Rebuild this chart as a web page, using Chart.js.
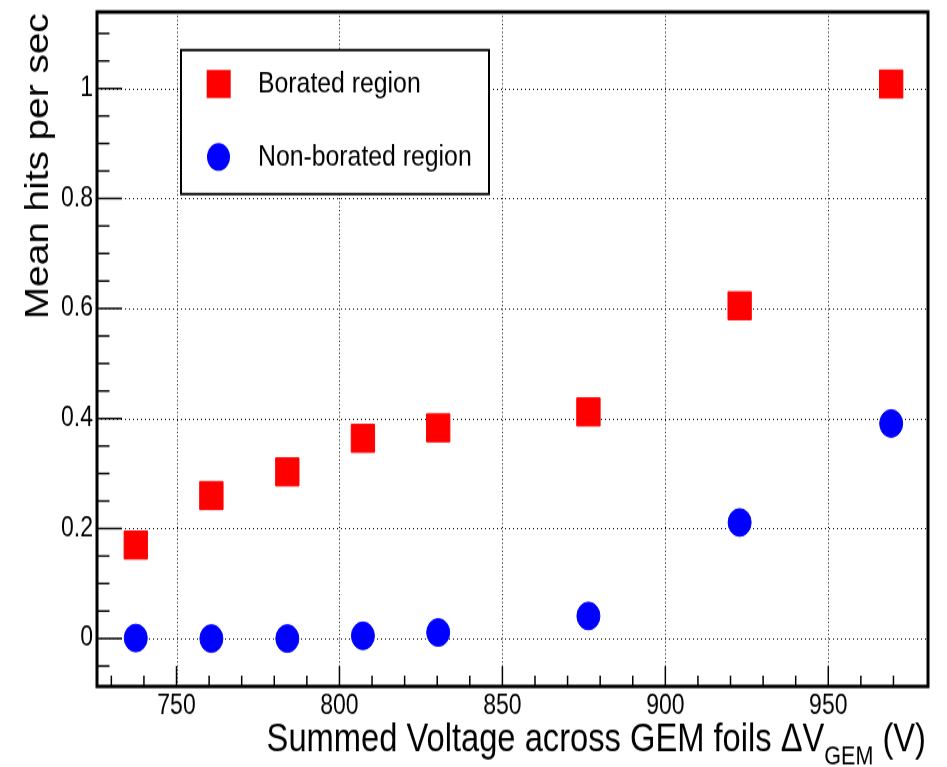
<!DOCTYPE html>
<html>
<head>
<meta charset="utf-8">
<script src="https://cdn.jsdelivr.net/npm/chart.js@4.4.1/dist/chart.umd.min.js"></script>
<style>
  html, body { margin: 0; padding: 0; background: #fff; }
  #page { width: 947px; height: 767px; position: relative; }
  /* the source plot is stretched vertically, so the canvas is too */
  #wrap { position: absolute; left: 0; top: 0; width: 947px; height: 639px; transform: scaleY(1.2); transform-origin: 0 0; }
</style>
</head>
<body>
<div id="page"><div id="wrap"><canvas id="myChart" width="947" height="639"></canvas></div></div>
<script>
// data
var voltages = [737.5, 760.7, 784, 807.2, 830.3, 876.4, 922.8, 969.3];
var borated = [0.17, 0.26, 0.303, 0.364, 0.383, 0.412, 0.605, 1.008];
var nonBorated = [0.001, 0.0, 0.0, 0.005, 0.011, 0.041, 0.211, 0.391];
var xTicks = [750, 800, 850, 900, 950];
var yTicks = [0, 0.2, 0.4, 0.6, 0.8, 1];
var seriesNames = ["Borated region", "Non-borated region"];

function toPoints(ys) {
  return voltages.map(function (v, i) { return { x: v, y: ys[i] }; });
}

var FONT = '"Liberation Sans", Arial, Helvetica, sans-serif';
Chart.defaults.font.family = FONT;
Chart.defaults.color = "#000";

// grid, frame, ticks, legend and axis titles in the ROOT style
var rootStyle = {
  id: "rootStyle",
  beforeDatasetsDraw: function (chart) {
    var ctx = chart.ctx, a = chart.chartArea;
    var xs = chart.scales.x, ys = chart.scales.y;
    ctx.save();
    ctx.strokeStyle = "#000";
    ctx.lineWidth = 1;
    ctx.setLineDash([1, 2.3]);
    xTicks.forEach(function (v) {
      var px = Math.round(xs.getPixelForValue(v)) + 0.5;
      ctx.beginPath(); ctx.moveTo(px, a.top); ctx.lineTo(px, a.bottom); ctx.stroke();
    });
    ctx.setLineDash([1, 3]);
    yTicks.forEach(function (v) {
      var py = Math.round(ys.getPixelForValue(v)) + 0.5;
      ctx.beginPath(); ctx.moveTo(a.left, py); ctx.lineTo(a.right, py); ctx.stroke();
    });
    ctx.restore();
  },
  afterDatasetsDraw: function (chart) {
    var ctx = chart.ctx, a = chart.chartArea;
    var xs = chart.scales.x, ys = chart.scales.y;
    ctx.save();
    ctx.strokeStyle = "#000";
    ctx.setLineDash([]);

    // ticks inside the frame
    ctx.lineWidth = 1.5;
    for (var v = 730; v <= 970; v += 10) {
      var px = xs.getPixelForValue(v);
      var len = v % 50 === 0 ? 17 : 9;
      ctx.beginPath(); ctx.moveTo(px, a.bottom); ctx.lineTo(px, a.bottom - len); ctx.stroke();
    }
    for (var k = -1; k <= 22; k++) {
      var yv = k * 0.05;
      var py = ys.getPixelForValue(yv);
      var ylen = k % 4 === 0 ? 25 : 12.5;
      ctx.beginPath(); ctx.moveTo(a.left, py); ctx.lineTo(a.left + ylen, py); ctx.stroke();
    }

    // frame
    ctx.lineWidth = 3;
    ctx.strokeRect(a.left, a.top, a.right - a.left, a.bottom - a.top);

    // legend box
    ctx.fillStyle = "#fff";
    ctx.fillRect(181, 41.7, 308, 120);
    ctx.lineWidth = 2;
    ctx.strokeRect(181, 41.7, 308, 120);

    var ds = chart.data.datasets;
    ctx.fillStyle = ds[0].backgroundColor;
    ctx.fillRect(206.7, 58.3, 24, 23.4);
    ctx.fillStyle = ds[1].backgroundColor;
    ctx.beginPath(); ctx.arc(218.5, 130.8, 11.5, 0, Math.PI * 2); ctx.fill();

    ctx.fillStyle = "#000";
    ctx.font = "24.8px " + FONT;
    ctx.textAlign = "left";
    ctx.textBaseline = "alphabetic";
    ctx.fillText(ds[0].label, 258, 77.3);
    ctx.fillText(ds[1].label, 258, 138.3);

    // y title, aligned to the top of the axis
    ctx.save();
    ctx.translate(48, 11);
    ctx.rotate(-Math.PI / 2);
    ctx.font = "32.3px " + FONT;
    ctx.textAlign = "right";
    ctx.fillText("Mean hits per sec", 0, 0);
    ctx.restore();

    // x title with subscript, aligned to the right end of the axis
    var main = "Summed Voltage across GEM foils \u0394V", sub = "GEM", tail = " (V)";
    ctx.font = "32.7px " + FONT;
    var w1 = ctx.measureText(main).width, w3 = ctx.measureText(tail).width;
    ctx.font = "21.5px " + FONT;
    var w2 = ctx.measureText(sub).width;
    var x0 = 926 - w1 - w2 - w3;
    ctx.textAlign = "left";
    ctx.font = "32.7px " + FONT;
    ctx.fillText(main, x0, 626.4);
    ctx.fillText(tail, x0 + w1 + w2, 626.4);
    ctx.font = "21.5px " + FONT;
    ctx.fillText(sub, x0 + w1, 637);
    ctx.restore();
  }
};

var ctx = document.getElementById("myChart").getContext("2d");
// eslint-disable-next-line no-undef
var myChart = new Chart(ctx, {
  type: "scatter",
  data: {
    datasets: [
      {
        label: seriesNames[0],
        data: toPoints(borated),
        pointStyle: "rect",
        pointRadius: 16.5,
        pointHoverRadius: 16.5,
        backgroundColor: "#ff0000",
        borderColor: "#ff0000",
        borderWidth: 1,
      },
      {
        label: seriesNames[1],
        data: toPoints(nonBorated),
        pointStyle: "circle",
        pointRadius: 11.5,
        pointHoverRadius: 11.5,
        backgroundColor: "#0000ff",
        borderColor: "#0000ff",
        borderWidth: 1,
      },
    ],
  },
  options: {
    responsive: false,
    animation: false,
    events: [],
    layout: { autoPadding: false, padding: { top: 10, right: 19, left: 0, bottom: 0 } },
    plugins: {
      legend: { display: false },
      tooltip: { enabled: false },
    },
    scales: {
      x: {
        type: "linear",
        min: 725.6,
        max: 980.6,
        grid: { display: false, drawTicks: false },
        border: { display: false },
        afterBuildTicks: function (scale) {
          scale.ticks = xTicks.map(function (v) { return { value: v }; });
        },
        afterFit: function (scale) {
          scale.height = 67;
          scale.paddingLeft = 0;
          scale.paddingRight = 0;
        },
        ticks: { font: { size: 23 }, color: "#000", padding: 3, maxRotation: 0 },
      },
      y: {
        type: "linear",
        min: -0.087,
        max: 1.139,
        grid: { display: false, drawTicks: false },
        border: { display: false },
        afterBuildTicks: function (scale) {
          scale.ticks = yTicks.map(function (v) { return { value: v }; });
        },
        afterFit: function (scale) {
          scale.width = 97;
          scale.paddingTop = 0;
          scale.paddingBottom = 0;
        },
        ticks: {
          font: { size: 23 },
          color: "#000",
          padding: 4,
          callback: function (v) { return String(+Number(v).toFixed(1)); },
        },
      },
    },
  },
  plugins: [rootStyle],
});
</script>
</body>
</html>
